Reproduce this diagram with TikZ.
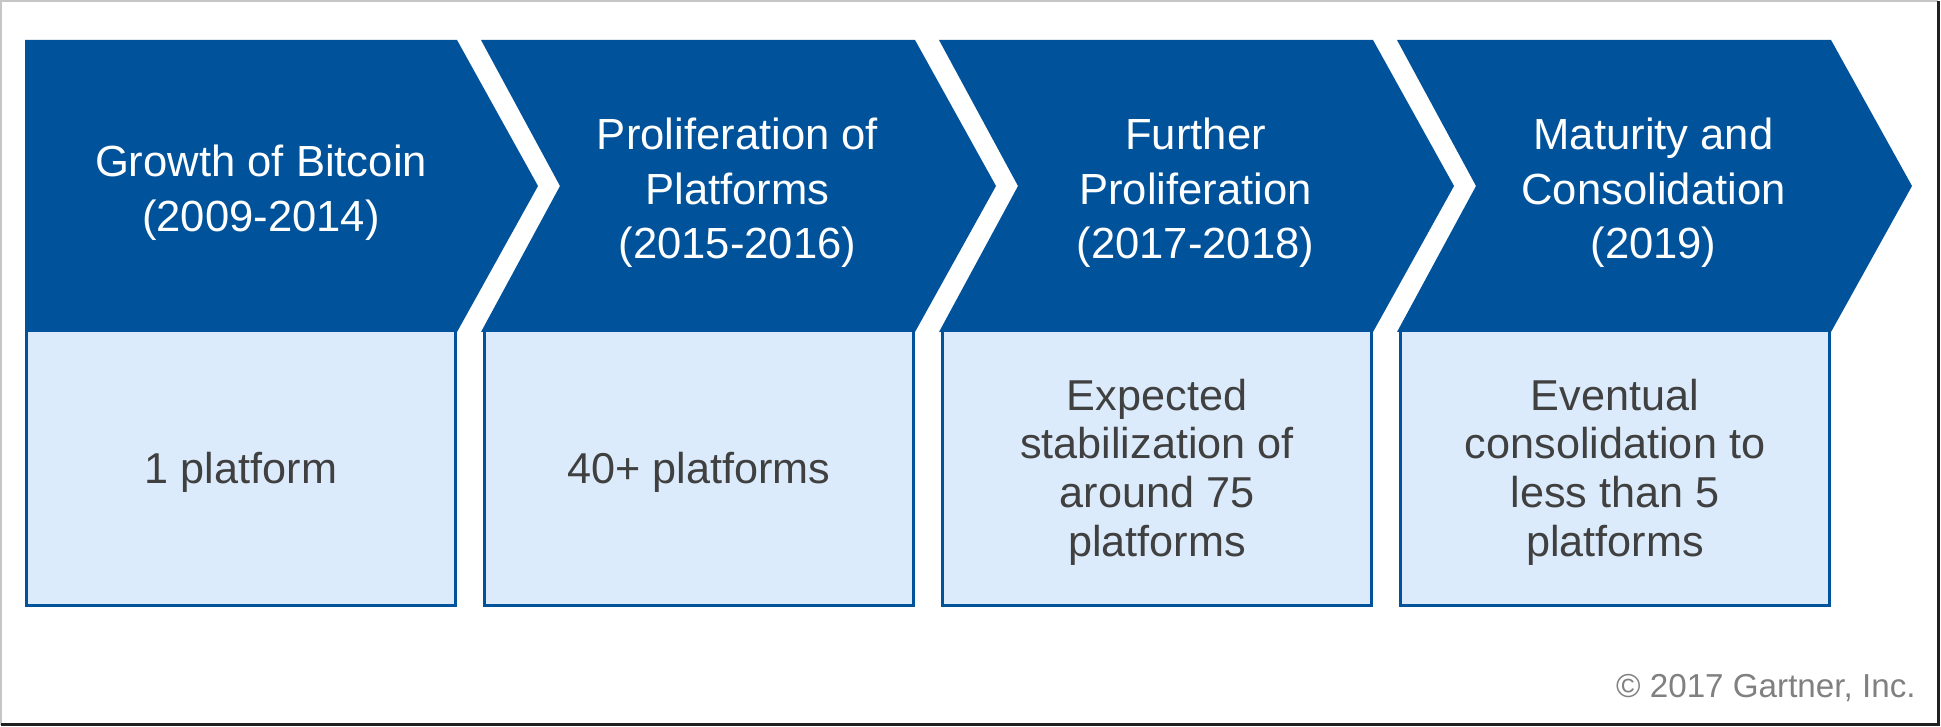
\documentclass[tikz,border=0pt]{standalone}
\usepackage{fontspec}
\setmainfont{Liberation Sans}
\definecolor{gartnerblue}{RGB}{0,82,155}
\definecolor{paleblue}{RGB}{219,235,251}
\definecolor{bodygray}{RGB}{64,64,64}
\begin{document}
\begin{tikzpicture}[x=0.5pt,y=0.5pt,
    headtext/.style={text=white,align=center,inner sep=0pt,font=\fontsize{21.8}{27.3}\selectfont},
    bodytext/.style={text=bodygray,align=center,inner sep=0pt,font=\fontsize{21.6}{24.3}\selectfont},
    bodybox/.style={fill=paleblue,draw=gartnerblue,line width=1.5pt}]
      \useasboundingbox (0,0) rectangle (1941,727);
      % frame
      \draw[gray!45,line width=1pt] (1,2) -- (1,726) -- (1938,726);
      \draw[gray!25!black,line width=1.5pt] (1,2.5) -- (1938.5,2.5) -- (1938.5,726);
      % light boxes
      \filldraw[bodybox] (26.5,121.5) rectangle (455.5,396);
      \filldraw[bodybox] (484.5,121.5) rectangle (913.5,396);
      \filldraw[bodybox] (942.5,121.5) rectangle (1371.5,396);
      \filldraw[bodybox] (1400.5,121.5) rectangle (1829.5,396);
      % chevrons
      \fill[gartnerblue] (25,687) -- (457,687) -- (538,541) -- (457,395) -- (25,395) -- cycle;
      \fill[gartnerblue] (481,687) -- (915,687) -- (996,541) -- (915,395) -- (481,395) -- (560,541) -- cycle;
      \fill[gartnerblue] (939,687) -- (1373,687) -- (1454,541) -- (1373,395) -- (939,395) -- (1018,541) -- cycle;
      \fill[gartnerblue] (1397,687) -- (1831,687) -- (1912,541) -- (1831,395) -- (1397,395) -- (1476,541) -- cycle;
      % labels
      \node[headtext] (head1) at (261,534) {Growth of Bitcoin\\(2009-2014)};
      \node[headtext] (head2) at (737.5,534) {Proliferation of\\Platforms\\(2015-2016)};
      \node[headtext] (head3) at (1195.5,534) {Further\\Proliferation\\(2017-2018)};
      \node[headtext] (head4) at (1653.5,534) {Maturity and\\Consolidation\\(2019)};
      \node[bodytext] (body1) at (241,255) {1 platform};
      \node[bodytext] (body2) at (699,255) {40+ platforms};
      \node[bodytext] (body3) at (1157,255) {Expected\\stabilization of\\around 75\\platforms};
      \node[bodytext] (body4) at (1615,255) {Eventual\\consolidation to\\less than 5\\platforms};
      \node[anchor=base east,inner sep=0pt,text=gray,font=\fontsize{16.6}{20}\selectfont] (credit) at (1916,29) {\textcopyright{} 2017 Gartner, Inc.};
    \end{tikzpicture}
\end{document}
